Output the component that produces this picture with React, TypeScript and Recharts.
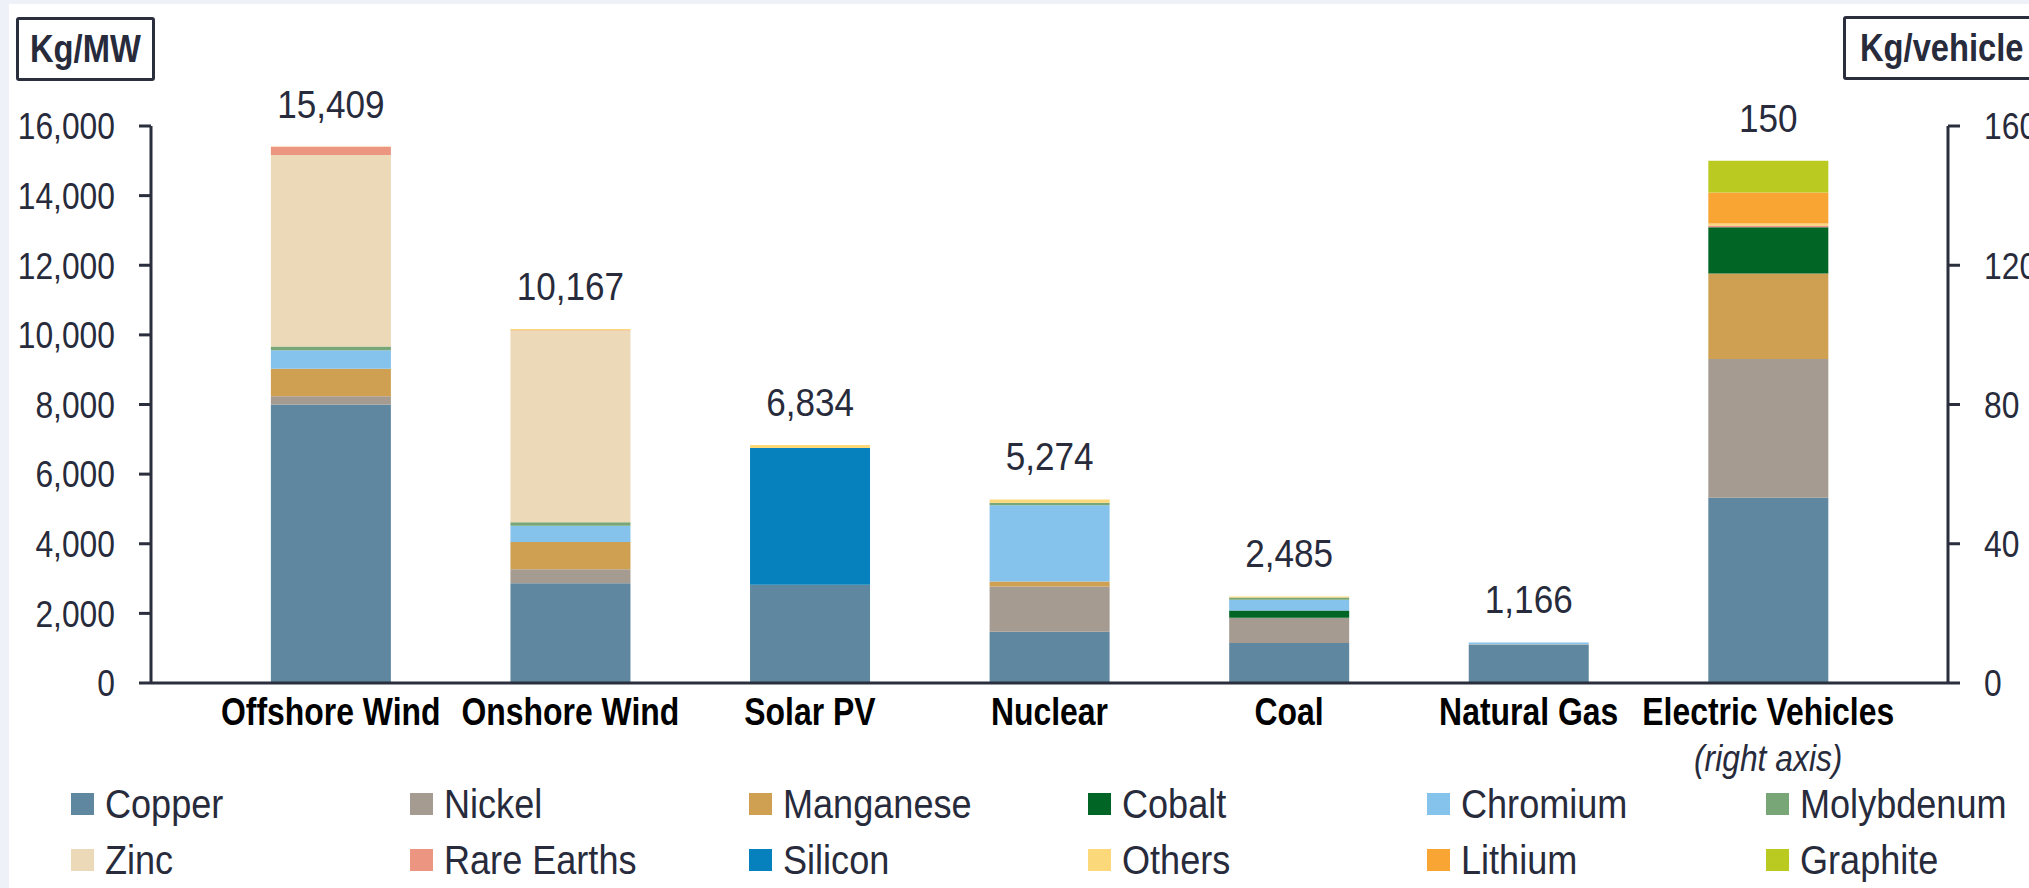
import { BarChart, Bar, XAxis, YAxis, LabelList } from "recharts";

// categories on the x axis (last one is read on the right axis)
const categories = [
  "Offshore Wind",
  "Onshore Wind",
  "Solar PV",
  "Nuclear",
  "Coal",
  "Natural Gas",
  "Electric Vehicles",
];

// kg per MW for the six power technologies
const copper = [8000, 2866, 2822, 1473, 1150, 1100];
const nickel = [240, 404, 0, 1297, 721, 16];
const manganese = [790, 780, 0, 148, 0, 0];
const cobalt = [0, 0, 0, 0, 210, 0];
const chromium = [525, 470, 0, 2190, 308, 48];
const molybdenum = [109, 99, 0, 70, 66, 0];
const zinc = [5500, 5500, 0, 0, 0, 0];
const rareEarths = [239, 14, 0, 0, 0, 0];
const silicon = [0, 0, 3928, 0, 0, 0];
const others = [6, 34, 84, 96, 30, 2];
const lithium = [0, 0, 0, 0, 0, 0];
const graphite = [0, 0, 0, 0, 0, 0];
const powerTotals = [15409, 10167, 6834, 5274, 2485, 1166];

// kg per vehicle for electric vehicles, same mineral order
const evValues = [53.2, 39.9, 24.5, 13.3, 0, 0, 0, 0.5, 0, 0.6, 8.9, 9.1];
const evTotal = 150;

const minerals = [
  "Copper", "Nickel", "Manganese", "Cobalt", "Chromium", "Molybdenum",
  "Zinc", "Rare Earths", "Silicon", "Others", "Lithium", "Graphite",
];
const keys = [
  "copper", "nickel", "manganese", "cobalt", "chromium", "molybdenum",
  "zinc", "rareEarths", "silicon", "others", "lithium", "graphite",
];
const powerValues = [
  copper, nickel, manganese, cobalt, chromium, molybdenum,
  zinc, rareEarths, silicon, others, lithium, graphite,
];
const leftTicks = [0, 2000, 4000, 6000, 8000, 10000, 12000, 14000, 16000];
const rightTicks = [0, 40, 80, 120, 160];

const colors = [
  "#5f879f", "#a59b90", "#cf9f52", "#006525", "#85c2ec", "#78a676",
  "#ebd9b7", "#ec9682", "#0781bd", "#fbd879", "#f8a533", "#bbca21",
];

const data = categories.map((category, i) => {
  const row: Record<string, any> = { category };
  keys.forEach((k, j) => {
    if (i < 6) row[k] = powerValues[j][i];
    else row["ev_" + k] = evValues[j];
  });
  if (i < 6) row.total = powerTotals[i];
  else row.evTotal = evTotal;
  return row;
});

const ink = "#272b3b";
const font = "'Liberation Sans', Arial, sans-serif";
const fmt = (v: any) => (v == null ? "" : Number(v).toLocaleString("en-US"));

// narrow look: the original uses a condensed face, squeeze Liberation Sans instead
function CategoryTick({ x, y, payload }: any) {
  const ev = payload.value === "Electric Vehicles";
  return (
    <g>
      <text transform={`translate(${x} ${y}) scale(0.84 1)`} dy={42} textAnchor="middle" fontWeight="bold" fontSize={38} fill="#000">
        {payload.value}
      </text>
      {ev && (
        <text transform={`translate(${x} ${y}) scale(0.86 1)`} dy={88} textAnchor="middle" fontStyle="italic" fontSize={37} fill={ink}>
          (right axis)
        </text>
      )}
    </g>
  );
}

function ValueTick({ x, y, payload, textAnchor }: any) {
  return (
    <text transform={`translate(${x} ${y}) scale(0.86 1)`} dy="0.36em" textAnchor={textAnchor} fontSize={37} fill={ink}>
      {fmt(payload.value)}
    </text>
  );
}

function TotalLabel({ x, y, width, value }: any) {
  if (value == null || value === "") return null;
  return (
    <text transform={`translate(${Number(x) + Number(width) / 2} ${Number(y) - 29}) scale(0.9 1)`} textAnchor="middle" fontSize={39} fill={ink}>
      {fmt(value)}
    </text>
  );
}

const axisStyle = { stroke: "#2a2e3d", strokeWidth: 3 };
const squeeze = (s: number) => ({ display: "inline-block", transform: `scaleX(${s})`, transformOrigin: "left center" });

export default function App() {
  return (
    <div
      style={{
        position: "absolute", left: 0, top: 0, width: 2029, height: 888,
        background: "#eef2f8", overflow: "hidden", fontFamily: font,
      }}
    >
      <div style={{ position: "absolute", left: 9, top: 4, right: 0, bottom: 0, background: "#fff" }} />
      <div style={{ position: "absolute", left: 0, top: 0 }}>
        <BarChart
          width={2029}
          height={888}
          data={data}
          margin={{ top: 126, right: 0, bottom: 125, left: 11 }}
          barCategoryGap="25%"
        >
          <XAxis
            xAxisId="main"
            dataKey="category"
            padding={{ left: 60, right: 60 }}
            height={80}
            axisLine={axisStyle}
            tickLine={false}
            tickSize={0}
            tickMargin={0}
            interval={0}
            tick={<CategoryTick />}
          />
          <XAxis xAxisId="ev" dataKey="category" orientation="top" height={0} padding={{ left: 60, right: 60 }} hide />
          <YAxis
            yAxisId="left"
            width={140}
            domain={[0, 16000]}
            ticks={leftTicks}
            axisLine={axisStyle}
            tickLine={axisStyle}
            tickSize={12}
            tickMargin={24}
            tick={<ValueTick />}
          />
          <YAxis
            yAxisId="right"
            orientation="right"
            width={81}
            domain={[0, 160]}
            ticks={rightTicks}
            axisLine={axisStyle}
            tickLine={axisStyle}
            tickSize={12}
            tickMargin={24}
            tick={<ValueTick />}
          />
          {keys.map((k, j) => (
            <Bar
              key={k}
              dataKey={k}
              xAxisId="main"
              yAxisId="left"
              stackId="power"
              fill={colors[j]}
              isAnimationActive={false}
            >
              {k === "others" && <LabelList dataKey="total" content={<TotalLabel />} />}
            </Bar>
          ))}
          {keys.map((k, j) => (
            <Bar
              key={"ev_" + k}
              dataKey={"ev_" + k}
              xAxisId="ev"
              yAxisId="right"
              stackId="ev"
              fill={colors[j]}
              isAnimationActive={false}
            >
              {k === "graphite" && <LabelList dataKey="evTotal" content={<TotalLabel />} />}
            </Bar>
          ))}
        </BarChart>
      </div>
      <div
        style={{
          position: "absolute", left: 16, top: 17, width: 133, height: 58,
          border: "3px solid #2a2e3d", borderRadius: 3, display: "flex",
          alignItems: "center", justifyContent: "center",
          fontWeight: "bold", fontSize: 38, color: ink, background: "#fff",
        }}
      >
        <span style={{ display: "inline-block", transform: "scaleX(0.86)" }}>Kg/MW</span>
      </div>
      <div
        style={{
          position: "absolute", left: 1843, top: 16, width: 200, height: 58,
          border: "3px solid #2a2e3d", borderRadius: 3, display: "flex",
          alignItems: "center", paddingLeft: 14, boxSizing: "content-box",
          fontWeight: "bold", fontSize: 38, color: ink, background: "#fff",
        }}
      >
        <span style={squeeze(0.86)}>Kg/vehicle</span>
      </div>
      {minerals.map((m, i) => (
        <div
          key={m}
          style={{
            position: "absolute",
            left: 71 + (i % 6) * 339,
            top: 784 + Math.floor(i / 6) * 56,
            height: 40, display: "flex", alignItems: "center",
            fontSize: 41, color: ink, whiteSpace: "nowrap",
          }}
        >
          <span style={{ width: 23, height: 22, background: colors[i], marginRight: 11, display: "inline-block" }} />
          <span style={squeeze(0.88)}>{m}</span>
        </div>
      ))}
    </div>
  );
}
